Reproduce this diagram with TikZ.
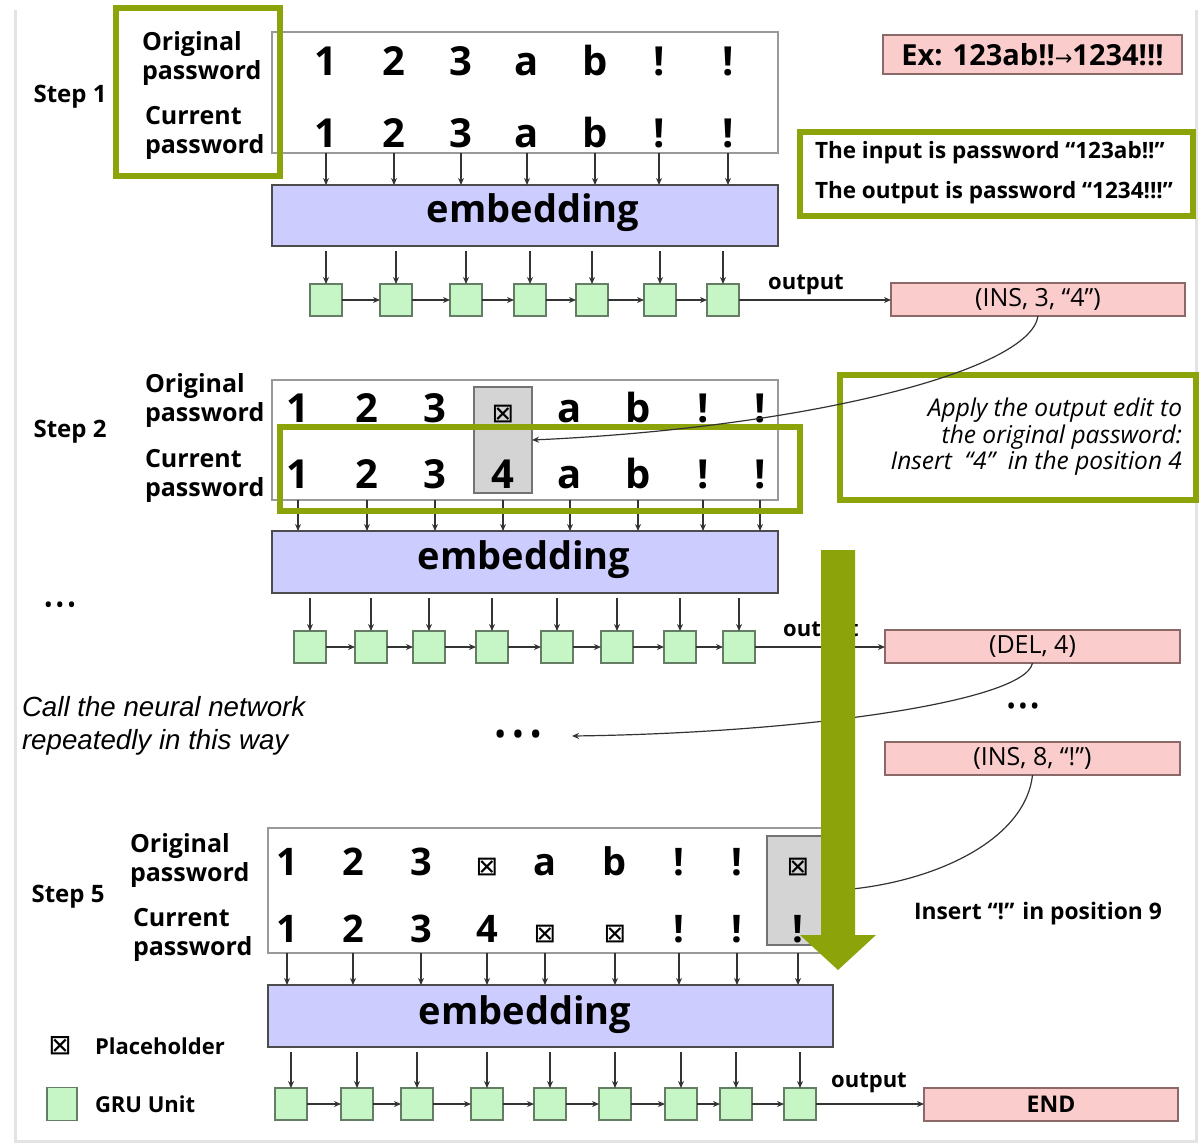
\documentclass[tikz,border=0pt]{standalone}
\usepackage{fontspec}
\setmainfont{Open Sans}
\newfontfamily\dejavu{DejaVu Sans}
\newfontfamily\arialf{Liberation Sans}
\usetikzlibrary{arrows.meta}
\definecolor{olivegr}{RGB}{140,163,10}
\definecolor{lav}{RGB}{204,204,255}
\definecolor{pinkf}{RGB}{250,204,204}
\definecolor{pinkd}{RGB}{140,105,105}
\definecolor{gruf}{RGB}{198,246,198}
\definecolor{grud}{RGB}{100,125,100}
\definecolor{colf}{RGB}{212,212,212}
\newcommand\PH{{\dejavu\mdseries\fontsize{27}{27}\selectfont ⊠}}
\begin{document}
\begin{tikzpicture}[x=1pt,y=-1pt,
 every node/.style={inner sep=0pt,outer sep=0pt},
 lbl/.style={font=\fontsize{25}{29}\selectfont\bfseries,align=left,anchor=west},
 steplbl/.style={font=\fontsize{24}{28}\selectfont\bfseries},
 ch/.style={font=\fontsize{40}{40}\selectfont\bfseries,anchor=base},
 chs/.style={font=\fontsize{38}{38}\selectfont\bfseries,anchor=base},
 pwbox/.style={draw=gray!80,line width=1.2pt,fill=white},
 col/.style={draw=gray!90!black,fill=colf,line width=1.2pt},
 emb/.style={draw=black!70,fill=lav,line width=1.5pt},
 embt/.style={font=\fontsize{38}{38}\selectfont\bfseries},
 gru/.style={draw=grud,fill=gruf,line width=1.4pt,minimum width=32pt,minimum height=32pt},
 pk/.style={draw=pinkd,fill=pinkf,line width=1.3pt,font=\fontsize{25}{25}\selectfont},
 hl/.style={draw=olivegr,line width=5.5pt},
 info/.style={font=\fontsize{22.5}{22.5}\selectfont\bfseries,anchor=west},
 arr/.style={-{Stealth[length=7pt,width=6pt]},line width=1.3pt,black!80},
 curve/.style={-{Stealth[length=7pt,width=6pt]},line width=1.2pt,black!80},
 outl/.style={font=\fontsize{22}{22}\selectfont\bfseries},
]
\useasboundingbox (0,0) rectangle (1202,1144);
\draw[gray!22,line width=3pt] (15,10) -- (15,1141) -- (1196,1141) -- (1196,10);

% ---------------- Step 1
\node[steplbl] (st1) at (70,97) {Step 1};
\node[lbl] (o1) at (142,59) {Original\\password};
\node[lbl] (c1) at (145,133) {Current\\password};
\node[pwbox,minimum width=506pt,minimum height=121pt] (b1) at (525,92.5) {};
\foreach \x/\c [count=\i] in {326/1,394/2,461/3,527/a,595/b,659/!,728/!} {
  \node[ch] (s1o\i) at (\x,75) {\c};
  \node[ch] (s1c\i) at (\x,147) {\c};
}
\node[emb,minimum width=506pt,minimum height=61pt] (e1) at (525,215.5) {};
\node[embt] (e1t) at (533,213) {embedding};
\foreach \i in {1,...,7} \draw[arr] (b1.south -| s1c\i) -- (e1.north -| s1c\i);
\foreach \x [count=\i] in {326,396,466,530,592,660,723} \node[gru] (g1\i) at (\x,300) {};
\foreach \i in {1,...,7} \draw[arr,shorten <=5pt] (e1.south -| g1\i) -- (g1\i.north);
\foreach \i/\j in {1/2,2/3,3/4,4/5,5/6,6/7} \draw[arr] (g1\i) -- (g1\j);
\node[pk,minimum width=294pt,minimum height=33pt] (p1) at (1038,299.5) {(INS, 3, “4”)};
\draw[arr] (g17.east) -- (g17.east -| p1.west);
\node[outl] (ol1) at (806,285) {output};

\node[pk,font=\fontsize{29}{29}\selectfont\bfseries,minimum width=299pt,minimum height=39pt] (ex) at (1032.5,54.5) {Ex: 123ab!!{\dejavu\mdseries\fontsize{21}{21}\selectfont→}1234!!!};
\node[hl,minimum width=393pt,minimum height=84pt] (h2) at (996.5,174) {};
\node[info] (in1) at (815,153) {The input is password “123ab!!”};
\node[info] (in2) at (815,193) {The output is password “1234!!!”};

% ---------------- Step 2
\node[steplbl] (st2) at (70,432) {Step 2};
\node[lbl] (o2) at (145,400) {Original\\password};
\node[lbl] (c2) at (145,476) {Current\\password};
\node[pwbox,minimum width=506pt,minimum height=120pt] (b2) at (525,440) {};
\node[col,minimum width=58pt,minimum height=106pt] (k2) at (503,440) {};
\foreach \x/\c/\d [count=\i] in {298/1/1,367/2/2,435/3/3,503/\PH/4,570/a/a,638/b/b,703/!/!,760/!/!} {
  \node[ch] (s2o\i) at (\x,422) {\c};
  \node[ch] (s2c\i) at (\x,488) {\d};
}
\node[emb,minimum width=506pt,minimum height=62pt] (e2) at (525,562) {};
\node[embt] (e2t) at (524,560) {embedding};
\foreach \i in {1,...,8} \draw[arr] (b2.south -| s2c\i) -- (e2.north -| s2c\i);
\foreach \x [count=\i] in {310,371,429,492,557,617,680,739} \node[gru] (g2\i) at (\x,647) {};
\foreach \i in {1,...,8} \draw[arr,shorten <=5pt] (e2.south -| g2\i) -- (g2\i.north);
\foreach \i/\j in {1/2,2/3,3/4,4/5,5/6,6/7,7/8} \draw[arr] (g2\i) -- (g2\j);
\node[pk,minimum width=295pt,minimum height=33pt] (p2) at (1032.5,646.5) {(DEL, 4)};
\draw[arr] (g28.east) -- (g28.east -| p2.west);
\node[outl] (ol2) at (821,632) {output};

\node[hl,minimum width=520pt,minimum height=84pt] (h3) at (540,469) {};
\node[hl,minimum width=356pt,minimum height=125pt] (h4) at (1018,437.5) {};
\node[font=\fontsize{24.5}{26.5}\selectfont\itshape,align=right,anchor=east] (ap) at (1182,437) {Apply the output edit to\\the original password:\\Insert \ “4” \ in the position 4};
\draw[curve] (p1.south) .. controls (1030,372) and (800,428) .. (k2.east);

% ---------------- middle
\node[font=\fontsize{24}{24}\selectfont] (dl) at (60,608) {•\kern2.5pt•\kern2.5pt•};
\node[font=\fontsize{34}{34}\selectfont] (dm) at (518,738) {•\kern5pt•\kern5pt•};
\node[font=\fontsize{26}{26}\selectfont] (dr) at (1023,709) {•\kern2pt•\kern2pt•};
\coordinate (dmend) at (572,736);
\node[font=\fontsize{27.7}{33}\selectfont\arialf\itshape,align=left,anchor=west] (call) at (22,725.5) {Call the neural network\\repeatedly in this way};
\node[pk,minimum width=295pt,minimum height=33pt] (p3) at (1032.5,758.5) {(INS, 8, “!”)};
\draw[curve] (p2.south) .. controls (1025,702) and (800,733) .. (dmend);

% ---------------- Step 5
\node[steplbl] (st5) at (68,897) {Step 5};
\node[lbl] (o5) at (130,860) {Original\\password};
\node[lbl] (c5) at (133,935) {Current\\password};
\node[pwbox,minimum width=568pt,minimum height=125pt] (b5) at (552,890.5) {};
\node[col,minimum width=67pt,minimum height=109pt] (k5) at (800.5,890.5) {};
\foreach \x/\c/\d [count=\i] in {287/1/1,353/2/2,421/3/3,487/\PH/4,545/a/\PH,615/b/\PH,679/!/!,737/!/!,798/\PH/!} {
  \node[chs] (s5o\i) at (\x,875) {\c};
  \node[chs] (s5c\i) at (\x,942) {\d};
}
\node[emb,minimum width=565pt,minimum height=62pt] (e5) at (550.5,1016) {};
\node[embt] (e5t) at (525,1015) {embedding};
\foreach \i in {1,...,9} \draw[arr] (b5.south -| s5c\i) -- (e5.north -| s5c\i);
\foreach \x [count=\i] in {291,357,417,487,550,615,681,736,800} \node[gru] (g5\i) at (\x,1104) {};
\foreach \i in {1,...,9} \draw[arr,shorten <=5pt] (e5.south -| g5\i) -- (g5\i.north);
\foreach \i/\j in {1/2,2/3,3/4,4/5,5/6,6/7,7/8,8/9} \draw[arr] (g5\i) -- (g5\j);
\node[pk,font=\fontsize{23}{23}\selectfont\bfseries,minimum width=254pt,minimum height=33pt] (end) at (1051,1104.5) {END};
\draw[arr] (g59.east) -- (g59.east -| end.west);
\node[outl] (ol5) at (869,1083) {output};
\draw[curve] (p3.south) .. controls (1025,842) and (930,884) .. (k5.east);
\node[info,anchor=center,font=\fontsize{22.8}{22.8}\selectfont\bfseries] (ins) at (1038,914) {Insert “!” in position 9};

% ---------------- legend
\node[font=\fontsize{28}{28}\selectfont\dejavu] (lph) at (60,1046) {⊠};
\node[info,font=\fontsize{22}{22}\selectfont\bfseries] (lphl) at (95,1046) {Placeholder};
\node[gru,minimum width=30pt,minimum height=33pt] (lgru) at (62,1104) {};
\node[info,font=\fontsize{22}{22}\selectfont\bfseries] (lgrul) at (95,1104) {GRU Unit};

% ---------------- big green arrow
\fill[olivegr] (821,550) -- (855,550) -- (855,935) -- (876,935) -- (838,970) -- (800,935) -- (821,935) -- cycle;
\node[hl,minimum width=164pt,minimum height=168pt] (h1) at (198,92) {};
\end{tikzpicture}
\end{document}
